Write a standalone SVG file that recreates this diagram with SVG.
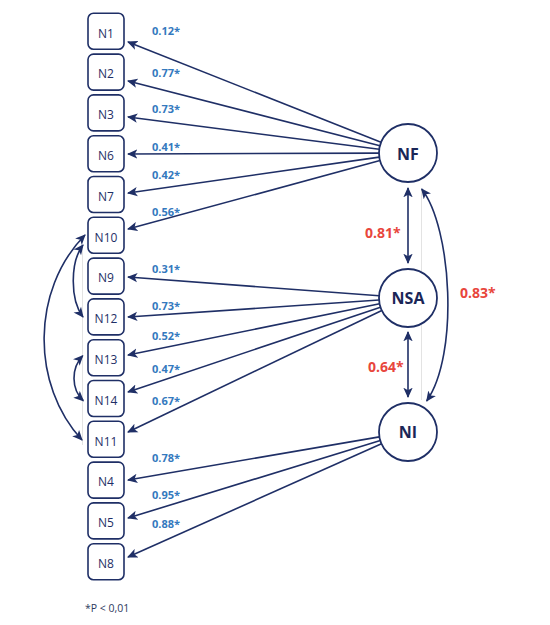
<svg xmlns="http://www.w3.org/2000/svg" width="550" height="625" viewBox="0 0 550 625">
<style>
.box{fill:#fff;stroke:#1f2f66;stroke-width:1.6}
.circ{fill:#fff;stroke:#1f2f66;stroke-width:1.8}
.bl{font-family:"Open Sans","DejaVu Sans",sans-serif;font-size:12px;fill:#1f2f66;text-anchor:middle}
.cl{font-family:"Open Sans","DejaVu Sans",sans-serif;font-size:16px;font-weight:bold;fill:#1a2657;text-anchor:middle}
.w{font-family:"Open Sans","DejaVu Sans",sans-serif;font-size:11px;font-weight:bold;fill:#3479be}
.r{font-family:"Open Sans","DejaVu Sans",sans-serif;font-size:14px;font-weight:bold;fill:#e8463c}
.e{fill:none;stroke:#1f2f66;stroke-width:1.6}
.e1{marker-end:url(#ah)}
.e2{marker-start:url(#ah);marker-end:url(#ah)}
.ghost{stroke:#dcdcdc;stroke-width:0.8;fill:none}
</style>
<defs>
<marker id="ah" viewBox="0 0 10 10" refX="9" refY="5" markerWidth="6.5" markerHeight="6.5" markerUnits="strokeWidth" orient="auto-start-reverse">
<path d="M0,0.5 L10,5 L0,9.5 L2.5,5 z" fill="#1f2f66"/>
</marker>
</defs>
<rect width="550" height="625" fill="#fff"/>
<line class="ghost" x1="82.5" y1="245" x2="82.5" y2="445"/>
<line class="ghost" x1="421.5" y1="190" x2="421.5" y2="400"/>
<g id="connectors">
<line class="e e1" x1="381.0" y1="142.3" x2="128" y2="42"/>
<line class="e e1" x1="379.9" y1="145.8" x2="128" y2="81"/>
<line class="e e1" x1="379.2" y1="149.3" x2="128" y2="117"/>
<line class="e e1" x1="379.0" y1="153.1" x2="128" y2="154"/>
<line class="e e1" x1="379.3" y1="157.1" x2="128" y2="193"/>
<line class="e e1" x1="380.0" y1="160.6" x2="128" y2="229"/>
<line class="e e1" x1="379.1" y1="295.8" x2="128" y2="277"/>
<line class="e e1" x1="379.1" y1="300.0" x2="128" y2="317"/>
<line class="e e1" x1="379.6" y1="303.8" x2="128" y2="355"/>
<line class="e e1" x1="380.5" y1="307.2" x2="128" y2="392"/>
<line class="e e1" x1="381.8" y1="310.5" x2="128" y2="432"/>
<line class="e e1" x1="379.4" y1="436.9" x2="128" y2="480"/>
<line class="e e1" x1="380.3" y1="440.5" x2="128" y2="518"/>
<line class="e e1" x1="381.5" y1="443.8" x2="128" y2="557"/>
<line class="e e2" x1="408" y1="188" x2="408" y2="263"/>
<line class="e e2" x1="408" y1="332" x2="408" y2="397"/>
<path class="e e2" d="M421.7,189 C452,228 459,355 426.7,401"/>
<path class="e e2" d="M85,235 C31,290 31,385 82,440"/>
<path class="e e2" d="M83,245 C70,262 70,300 83,317"/>
<path class="e e2" d="M82.7,355.7 C71,368 71,389 83.3,400.7"/>
</g>
<g id="N1"><rect class="box" x="88" y="13.3" width="36" height="36" rx="5.5"/><text class="bl" x="106" y="37.5">N1</text></g>
<g id="N2"><rect class="box" x="88" y="54.1" width="36" height="36" rx="5.5"/><text class="bl" x="106" y="78.3">N2</text></g>
<g id="N3"><rect class="box" x="88" y="94.9" width="36" height="36" rx="5.5"/><text class="bl" x="106" y="119.1">N3</text></g>
<g id="N6"><rect class="box" x="88" y="135.7" width="36" height="36" rx="5.5"/><text class="bl" x="106" y="159.9">N6</text></g>
<g id="N7"><rect class="box" x="88" y="176.5" width="36" height="36" rx="5.5"/><text class="bl" x="106" y="200.7">N7</text></g>
<g id="N10"><rect class="box" x="88" y="217.3" width="36" height="36" rx="5.5"/><text class="bl" x="106" y="241.5">N10</text></g>
<g id="N9"><rect class="box" x="88" y="258.1" width="36" height="36" rx="5.5"/><text class="bl" x="106" y="282.3">N9</text></g>
<g id="N12"><rect class="box" x="88" y="298.9" width="36" height="36" rx="5.5"/><text class="bl" x="106" y="323.1">N12</text></g>
<g id="N13"><rect class="box" x="88" y="339.7" width="36" height="36" rx="5.5"/><text class="bl" x="106" y="363.9">N13</text></g>
<g id="N14"><rect class="box" x="88" y="380.5" width="36" height="36" rx="5.5"/><text class="bl" x="106" y="404.7">N14</text></g>
<g id="N11"><rect class="box" x="88" y="421.3" width="36" height="36" rx="5.5"/><text class="bl" x="106" y="445.5">N11</text></g>
<g id="N4"><rect class="box" x="88" y="462.1" width="36" height="36" rx="5.5"/><text class="bl" x="106" y="486.3">N4</text></g>
<g id="N5"><rect class="box" x="88" y="502.9" width="36" height="36" rx="5.5"/><text class="bl" x="106" y="527.1">N5</text></g>
<g id="N8"><rect class="box" x="88" y="543.7" width="36" height="36" rx="5.5"/><text class="bl" x="106" y="567.9">N8</text></g>
<g id="NF"><circle class="circ" cx="408" cy="153" r="29"/><text class="cl" x="408" y="159.5">NF</text></g>
<g id="NSA"><circle class="circ" cx="408" cy="298" r="29"/><text class="cl" x="408" y="304">NSA</text></g>
<g id="NI"><circle class="circ" cx="408" cy="432" r="29"/><text class="cl" x="408" y="438">NI</text></g>
<g id="labels">
<text class="w" x="152" y="35">0.12*</text>
<text class="w" x="152" y="77">0.77*</text>
<text class="w" x="152" y="113">0.73*</text>
<text class="w" x="152" y="151">0.41*</text>
<text class="w" x="152" y="179">0.42*</text>
<text class="w" x="152" y="216">0.56*</text>
<text class="w" x="152" y="273">0.31*</text>
<text class="w" x="152" y="310">0.73*</text>
<text class="w" x="152" y="340">0.52*</text>
<text class="w" x="152" y="373">0.47*</text>
<text class="w" x="152" y="405">0.67*</text>
<text class="w" x="152" y="461.5">0.78*</text>
<text class="w" x="152" y="499">0.95*</text>
<text class="w" x="152" y="528">0.88*</text>
<text class="r" x="365" y="238">0.81*</text>
<text class="r" x="460" y="298">0.83*</text>
<text class="r" x="368" y="372">0.64*</text>
</g>
<text x="85" y="612" font-family="'Open Sans','DejaVu Sans',sans-serif" font-size="10.5" fill="#2d3a5e">*P &lt; 0,01</text>
</svg>
